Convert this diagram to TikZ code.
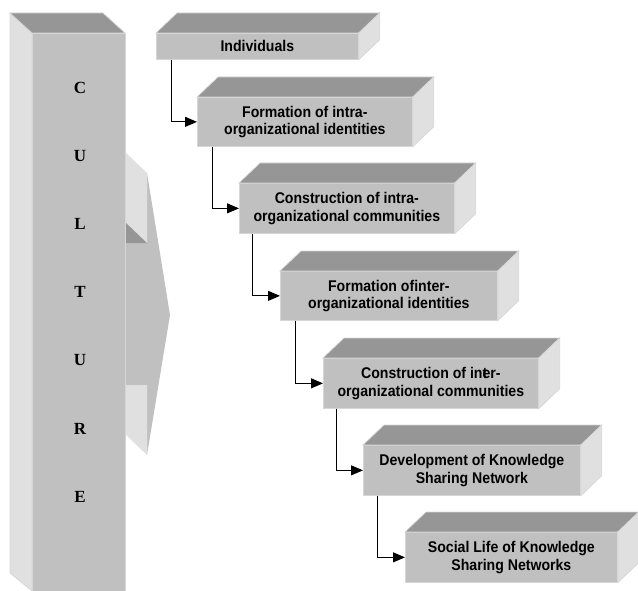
\documentclass[tikz,border=0pt]{standalone}
\usepackage{fontspec}
\setmainfont{Liberation Sans}[FakeStretch=0.91]
\newfontfamily\culturefont{Liberation Serif}
\usetikzlibrary{arrows.meta}

\definecolor{faceFront}{HTML}{C0C0C0}
\definecolor{faceTop}{HTML}{969696}
\definecolor{faceSide}{HTML}{E0E0E0}
\definecolor{faceEdge}{HTML}{D6D6D6}

\tikzset{
  frontface/.style={fill=faceFront, draw=faceEdge, line width=0.7bp},
  topface/.style={fill=faceTop, draw=faceEdge, line width=0.7bp},
  sideface/.style={fill=faceSide, draw=faceEdge, line width=0.7bp},
  stagebox/.style={frontface, anchor=north west, inner sep=0pt, align=center,
    font=\bfseries\fontsize{15.5bp}{17.5bp}\selectfont},
  letter/.style={font=\culturefont\bfseries\fontsize{17bp}{17bp}\selectfont, inner sep=0pt},
  link/.style={draw=black, line width=1bp, -{Triangle[length=12bp,width=10bp]}},
}

% a 3-D block: name, left, top, width, height, label
\newcommand\stagecube[6]{%
  \node[stagebox, minimum width=#4bp, minimum height=#5bp] (#1) at (#2,#3) {#6};
  \path[topface] (#1.north west) -- ++(21,-20) -- ([shift={(21,-20)}]#1.north east)
    -- (#1.north east) -- cycle;
  \path[sideface] (#1.north east) -- ++(21,-20) -- ([shift={(21,-20)}]#1.south east)
    -- (#1.south east) -- cycle;
}

\begin{document}
\begin{tikzpicture}[x=1bp, y=-1bp]
\useasboundingbox (0,0) rectangle (638,591);

% block arrow behind the column
\path[frontface, draw=none] (100,243) -- (147,243) -- (147,173) -- (170,315)
  -- (147,455) -- (147,385) -- (100,385) -- cycle;
\path[sideface, draw=none] (125,152) -- (147,173) -- (147,243) -- (125,222) -- cycle;
\path[topface, draw=none] (125,222) -- (147,243) -- (125,243) -- cycle;
\path[sideface, draw=none] (125,385) -- (147,385) -- (147,455) -- (125,434) -- cycle;

% the CULTURE column
\path[sideface] (10,13) -- (32,33) -- (32,591) -- (10,573) -- cycle;
\path[topface] (10,13) -- (103,13) -- (125,33) -- (32,33) -- cycle;
\node[frontface, anchor=north west, inner sep=0pt, minimum width=93bp,
  minimum height=558bp] (column) at (32,33) {};
\foreach \ch [count=\i] in {C,U,L,T,U,R,E}
  \node[letter] (letter\i) at (80,{87.5+68.2*(\i-1)}) {\ch};

% stages
\stagecube{s1}{156}{33}{202}{26}{Individuals}
\stagecube{s2}{197}{97}{215}{49}{Formation of intra-\\organizational identities}
\stagecube{s3}{239}{183}{215}{50}{Construction of intra-\\organizational communities}
\stagecube{s4}{280}{271}{217}{49}{Formation ofinter-\\organizational identities}
\stagecube{s5}{323}{358}{215}{50}{Construction of in\rlap{t}er-\\organizational communities}
\stagecube{s6}{363}{445}{217}{50}{Development of Knowledge\\Sharing Network}
\stagecube{s7}{405}{532}{212}{50}{Social Life of Knowledge\\Sharing Networks}

% links between stages
\draw[link] ([xshift=15bp]s1.south west) |- (s2.west);
\draw[link] ([xshift=15bp]s2.south west) |- (s3.west);
\draw[link] ([xshift=13bp]s3.south west) |- (s4.west);
\draw[link] ([xshift=15bp]s4.south west) |- (s5.west);
\draw[link] ([xshift=13bp]s5.south west) |- (s6.west);
\draw[link] ([xshift=14bp]s6.south west) |- (s7.west);
\end{tikzpicture}
\end{document}
